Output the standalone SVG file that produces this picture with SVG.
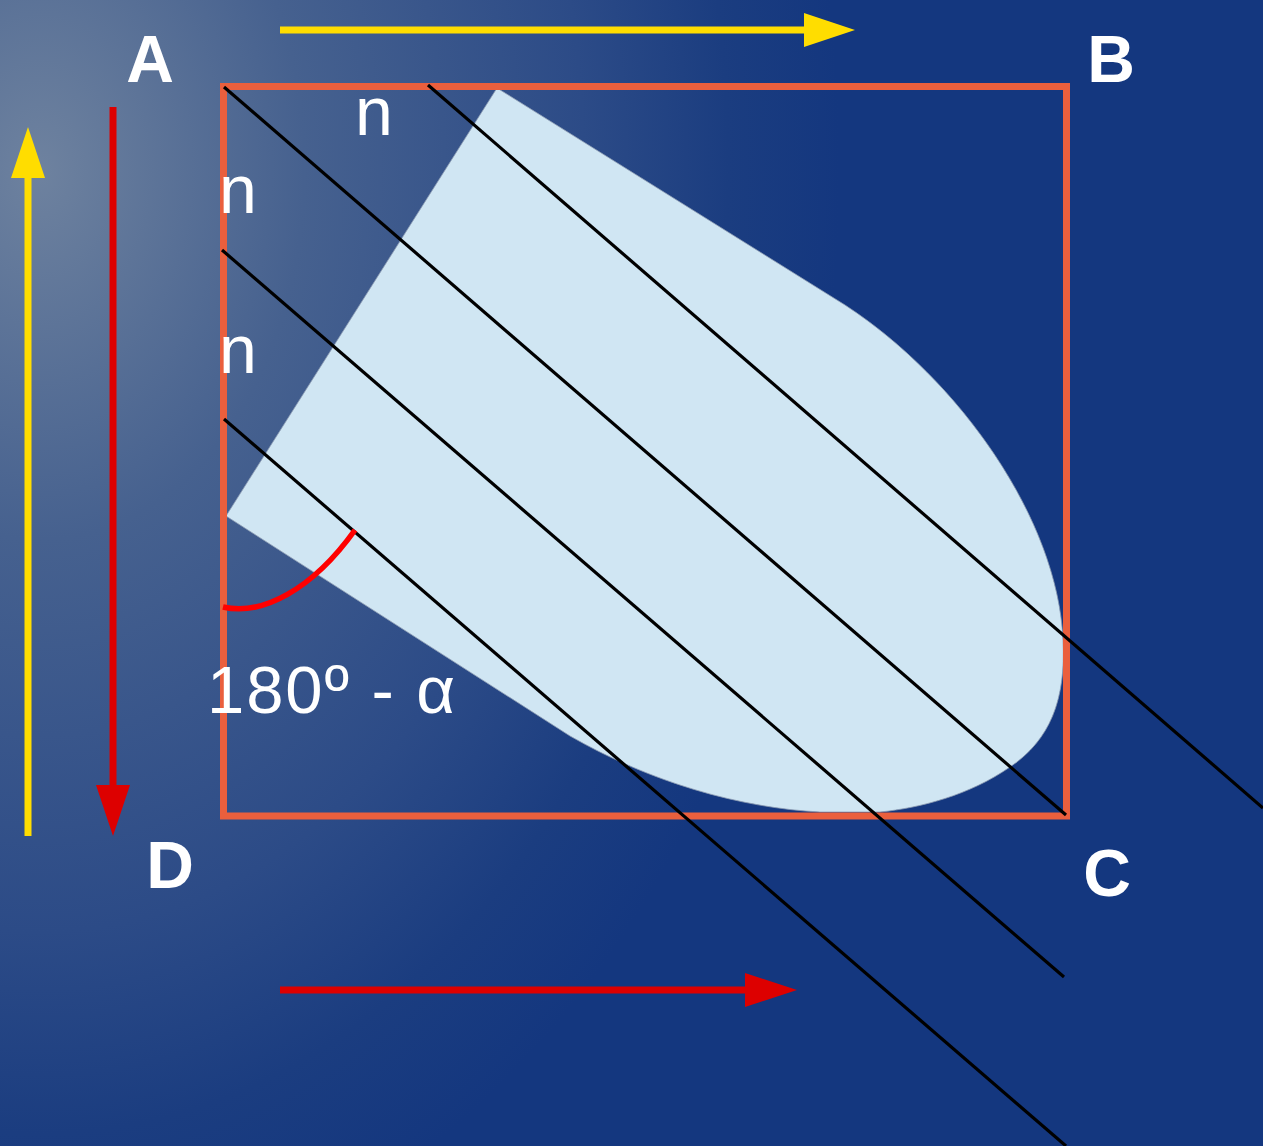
<svg xmlns="http://www.w3.org/2000/svg" width="1263" height="1146" viewBox="0 0 1263 1146">
  <defs>
    <radialGradient id="bg" gradientUnits="userSpaceOnUse" cx="40" cy="170" r="800" gradientTransform="translate(40 170) scale(1 1.4) translate(-40 -170)">
      <stop offset="0" stop-color="#6e829f"/>
      <stop offset="0.33" stop-color="#46618f"/>
      <stop offset="0.68" stop-color="#2c4b87"/>
      <stop offset="0.86" stop-color="#1b3d80"/>
      <stop offset="1" stop-color="#14377f"/>
    </radialGradient>
    <style>
      .lbl { font-family: "Liberation Sans", Arial, sans-serif; font-weight: bold; font-size: 66px; fill: #ffffff; text-anchor: middle; }
      .n { font-family: "Liberation Sans", Arial, sans-serif; font-size: 68px; fill: #ffffff; }
      .ang { font-family: "Liberation Sans", Arial, sans-serif; font-size: 67px; fill: #ffffff; }
      .ray { stroke: #000000; stroke-width: 3.2; fill: none; }
      .yel { stroke: #FFDD00; stroke-width: 7; fill: none; }
      .red { stroke: #DD0000; stroke-width: 7; fill: none; }
    </style>
  </defs>

  <rect id="background" x="0" y="0" width="1263" height="1146" fill="url(#bg)"/>

  <g id="beam-shape">
    <path d="M497,88 L226,516 L570,736 C650,782 740,808 820,812 L880,812 C920,808 970,795 1010,767 C1050,740 1066,700 1063,640 C1058,520 960,380 845,305 Z" fill="#D0E6F3" stroke="#8d9cb2" stroke-width="0.8"/>
  </g>

  <g id="square">
    <rect x="223.5" y="86.5" width="843" height="729.5" fill="none" stroke="#EA5F3D" stroke-width="7"/>
  </g>

  <g id="connectors">
    <line class="ray" x1="224" y1="87" x2="1066" y2="815"/>
    <line class="ray" x1="428" y1="85" x2="1263" y2="808"/>
    <line class="ray" x1="222" y1="250" x2="1064" y2="977"/>
    <line class="ray" x1="224" y1="419" x2="1066" y2="1146"/>
  </g>

  <g id="angle-arc">
    <path d="M223,607 C262,616 312,590 355,530" fill="none" stroke="#FF0000" stroke-width="5.5"/>
  </g>

  <g id="arrow-top">
    <line class="yel" x1="280" y1="30" x2="806" y2="30"/>
    <polygon points="804,13 855,30 804,47" fill="#FFDD00"/>
  </g>
  <g id="arrow-left-up">
    <line class="yel" x1="28" y1="836" x2="28" y2="176"/>
    <polygon points="11,178 28,127 45,178" fill="#FFDD00"/>
  </g>
  <g id="arrow-left-down">
    <line class="red" x1="113" y1="107" x2="113" y2="787"/>
    <polygon points="96,785 113,836 130,785" fill="#DD0000"/>
  </g>
  <g id="arrow-bottom">
    <line class="red" x1="280" y1="990" x2="747" y2="990"/>
    <polygon points="745,973 797,990 745,1007" fill="#DD0000"/>
  </g>

  <g id="label-A"><text class="lbl" x="150" y="82">A</text></g>
  <g id="label-B"><text class="lbl" x="1111" y="82">B</text></g>
  <g id="label-C"><text class="lbl" x="1107" y="896">C</text></g>
  <g id="label-D"><text class="lbl" x="170" y="888">D</text></g>

  <g id="label-n1"><text class="n" x="355" y="135">n</text></g>
  <g id="label-n2"><text class="n" x="219" y="213">n</text></g>
  <g id="label-n3"><text class="n" x="219" y="373">n</text></g>

  <g id="label-angle"><text class="ang" x="207" y="713" textLength="248" lengthAdjust="spacing">180º - α</text></g>
</svg>
